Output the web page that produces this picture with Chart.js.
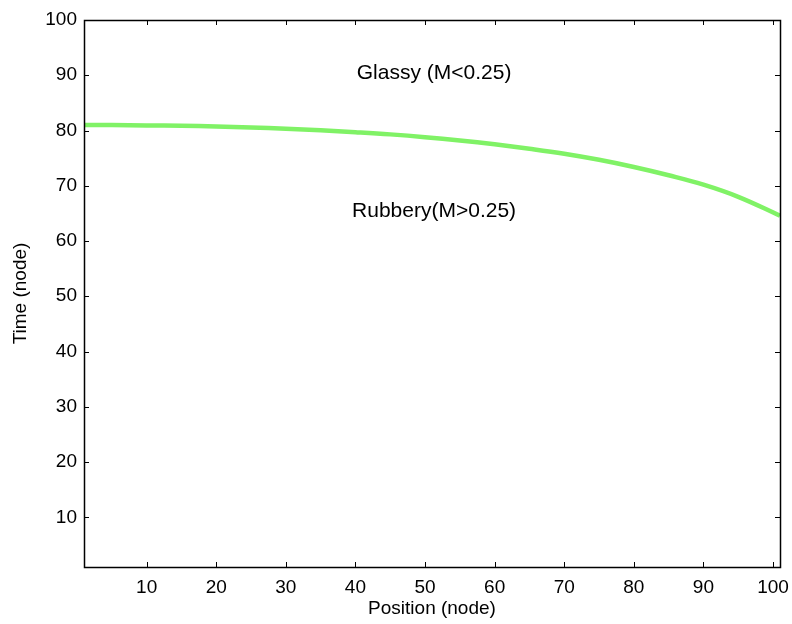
<!DOCTYPE html>
<html>
<head>
<meta charset="utf-8">
<script src="https://cdn.jsdelivr.net/npm/chart.js@4.4.0/dist/chart.umd.min.js"></script>
<style>
  html, body { margin: 0; padding: 0; background: #fff; }
  #wrap { width: 792px; height: 624px; }
</style>
</head>
<body>
<div id="wrap"><canvas id="c" width="792" height="624"></canvas></div>
<script>
// ---- data ----
const positionNodes = [1, 5, 10, 15, 20, 25, 30, 35, 40, 45, 50, 55, 60, 65, 70, 75, 80, 85, 90, 95, 101];
const timeNodes     = [81.0, 81.0, 80.92, 80.85, 80.72, 80.53, 80.32, 80.05, 79.7, 79.3, 78.8, 78.2, 77.5, 76.7, 75.8, 74.7, 73.4, 71.9, 70.2, 68.0, 64.6];
const xTickValues = [10, 20, 30, 40, 50, 60, 70, 80, 90, 100];
const yTickValues = [10, 20, 30, 40, 50, 60, 70, 80, 90, 100];
const regionLabels = ['Glassy (M<0.25)', 'Rubbery(M>0.25)'];
const regionLabelX = [51.3, 51.3];
const regionLabelY = [90.4, 65.4];

const FONT = "'Liberation Sans', Arial, Helvetica, sans-serif";

const boxPlugin = {
  id: 'boxTicks',
  afterDraw(chart) {
    const ctx = chart.ctx;
    const a = chart.chartArea;
    const xs = chart.scales.x, ys = chart.scales.y;
    ctx.save();
    ctx.strokeStyle = '#000';
    ctx.lineWidth = 1;
    const L = 5;
    ctx.beginPath();
    xTickValues.forEach(v => {
      const px = Math.round(xs.getPixelForValue(v)) + 0.5;
      ctx.moveTo(px, a.bottom); ctx.lineTo(px, a.bottom - L);
      ctx.moveTo(px, a.top); ctx.lineTo(px, a.top + L);
    });
    yTickValues.forEach(v => {
      const py = Math.round(ys.getPixelForValue(v)) + 0.5;
      ctx.moveTo(a.left, py); ctx.lineTo(a.left + L, py);
      ctx.moveTo(a.right, py); ctx.lineTo(a.right - L, py);
    });
    ctx.stroke();
    ctx.lineWidth = 1.5;
    ctx.strokeRect(Math.round(a.left) + 0.5, Math.round(a.top) + 0.5, Math.round(a.right - a.left), Math.round(a.bottom - a.top));
    // region annotations
    ctx.fillStyle = '#000';
    ctx.font = '21px ' + FONT;
    ctx.textAlign = 'center';
    ctx.textBaseline = 'middle';
    regionLabels.forEach((t, i) => {
      ctx.fillText(t, xs.getPixelForValue(regionLabelX[i]), ys.getPixelForValue(regionLabelY[i]));
    });
    ctx.restore();
  }
};

new Chart(document.getElementById('c'), {
  type: 'line',
  data: {
    datasets: [{
      data: positionNodes.map((x, i) => ({ x: x, y: timeNodes[i] })),
      borderColor: 'rgb(128,242,102)',
      borderWidth: 4.5,
      pointRadius: 0,
      fill: false,
      tension: 0.4
    }]
  },
  options: {
    responsive: false,
    animation: false,
    layout: { padding: { top: 20, right: 12, left: 0, bottom: 0 } },
    plugins: { legend: { display: false }, tooltip: { enabled: false } },
    scales: {
      x: {
        type: 'linear', min: 1, max: 101, position: 'bottom',
        afterBuildTicks: s => { s.ticks = xTickValues.map(v => ({ value: v })); },
        afterFit: s => { s.height = 57; s.paddingLeft = 0; s.paddingRight = 0; },
        grid: { display: false, drawTicks: false },
        border: { display: false },
        ticks: { color: '#000', font: { family: FONT, size: 19 }, padding: 9, maxRotation: 0, autoSkip: false },
        title: { display: true, text: 'Position (node)', color: '#000', font: { family: FONT, size: 19 }, padding: { top: 0, bottom: 4 } }
      },
      y: {
        type: 'linear', min: 1, max: 100,
        afterBuildTicks: s => { s.ticks = yTickValues.map(v => ({ value: v })); },
        afterFit: s => { s.width = 84; s.paddingTop = 0; s.paddingBottom = 0; },
        grid: { display: false, drawTicks: false },
        border: { display: false },
        ticks: { color: '#000', font: { family: FONT, size: 19 }, padding: 7, autoSkip: false },
        title: { display: true, text: 'Time (node)', color: '#000', font: { family: FONT, size: 19 }, padding: { top: 9, bottom: 0 } }
      }
    }
  },
  plugins: [boxPlugin]
});
</script>
</body>
</html>
